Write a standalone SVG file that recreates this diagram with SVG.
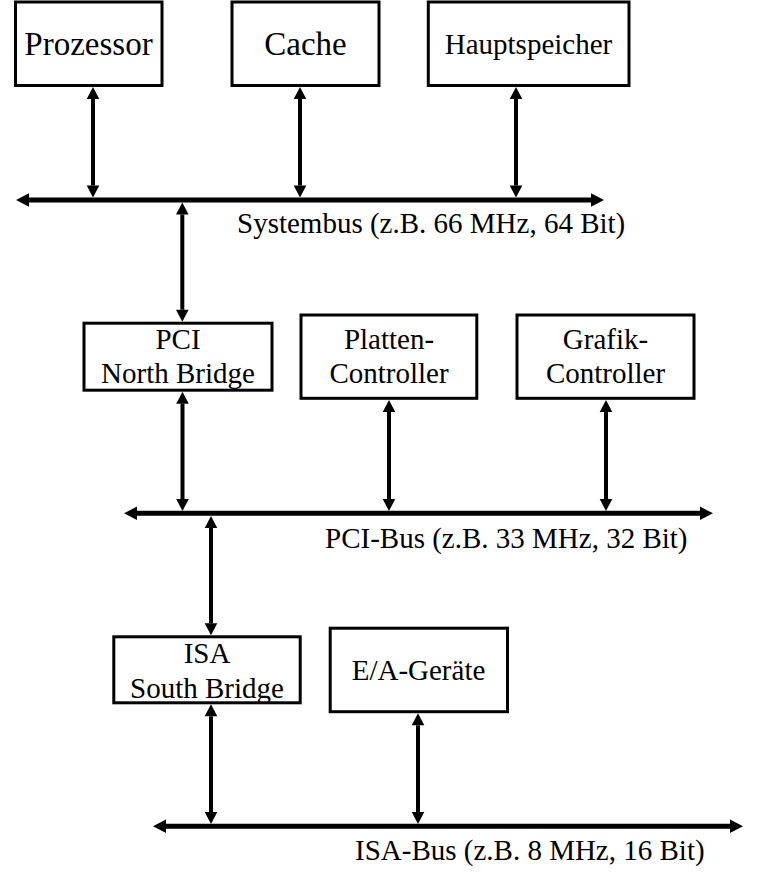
<svg xmlns="http://www.w3.org/2000/svg" width="782" height="886" viewBox="0 0 782 886">
<style>
.box{fill:#fff;stroke:#000;stroke-width:3}
.t{font-family:"Liberation Serif","Times New Roman",serif;fill:#000;text-anchor:middle;font-size:29px}
.big{font-size:33px}
.lbl{font-family:"Liberation Serif","Times New Roman",serif;fill:#000;font-size:29px}
.bus{stroke:#000;stroke-width:5;fill:none;marker-start:url(#bh);marker-end:url(#bh)}
.con{stroke:#000;stroke-width:4;fill:none;marker-start:url(#ah);marker-end:url(#ah)}
</style>
<defs>
<marker id="ah" markerUnits="userSpaceOnUse" markerWidth="14" markerHeight="14" viewBox="0 -7 13 14" refX="0" refY="0" orient="auto-start-reverse"><path d="M0,-6.3 L12,0 L0,6.3 z" fill="#000"/></marker>
<marker id="bh" markerUnits="userSpaceOnUse" markerWidth="15" markerHeight="15" viewBox="0 -7.5 14 15" refX="0" refY="0" orient="auto-start-reverse"><path d="M0,-6.7 L13,0 L0,6.7 z" fill="#000"/></marker>
</defs>
<rect width="782" height="886" fill="#fff"/>
<g id="connectors">
<line class="bus" x1="29" y1="200" x2="591" y2="200"/>
<line class="bus" x1="137" y1="513.3" x2="700" y2="513.3"/>
<line class="bus" x1="166" y1="826.3" x2="730" y2="826.3"/>
<line class="con" x1="93" y1="99" x2="93" y2="185.5"/>
<line class="con" x1="300" y1="99" x2="300" y2="185.5"/>
<line class="con" x1="516" y1="99" x2="516" y2="185.5"/>
<line class="con" x1="182.3" y1="214.5" x2="182.3" y2="309.7"/>
<line class="con" x1="182.5" y1="403.7" x2="182.5" y2="499"/>
<line class="con" x1="389" y1="412" x2="389" y2="499"/>
<line class="con" x1="606" y1="412" x2="606" y2="499"/>
<line class="con" x1="211" y1="528" x2="211" y2="623.3"/>
<line class="con" x1="211" y1="716.3" x2="211" y2="812"/>
<line class="con" x1="418" y1="725.3" x2="418" y2="812"/>
</g>
<g id="prozessor"><rect class="box" x="15.5" y="2" width="146.5" height="83.5"/><text class="t big" x="88.5" y="55">Prozessor</text></g>
<g id="cache"><rect class="box" x="232" y="2" width="147" height="83.5"/><text class="t big" x="305.5" y="55">Cache</text></g>
<g id="hauptspeicher"><rect class="box" x="428.3" y="2" width="200.7" height="83.5"/><text class="t" x="528.5" y="54">Hauptspeicher</text></g>
<g id="northbridge"><rect class="box" x="84" y="323.2" width="188" height="67"/><text class="t" x="178" y="349">PCI</text><text class="t" x="178" y="383">North Bridge</text></g>
<g id="platten"><rect class="box" x="301" y="315" width="175.8" height="83.3"/><text class="t" x="389" y="349">Platten-</text><text class="t" x="389" y="383">Controller</text></g>
<g id="grafik"><rect class="box" x="517" y="315" width="177" height="83.3"/><text class="t" x="605.5" y="349">Grafik-</text><text class="t" x="605.5" y="383">Controller</text></g>
<g id="southbridge"><rect class="box" x="113.8" y="636.8" width="186.4" height="66"/><text class="t" x="207" y="663">ISA</text><text class="t" x="207" y="698">South Bridge</text></g>
<g id="eageraete"><rect class="box" x="330.2" y="628.2" width="177.3" height="83.5"/><text class="t" x="418.5" y="680">E/A-Geräte</text></g>
<g id="labels">
<text class="lbl" x="237" y="233">Systembus (z.B. 66 MHz, 64 Bit)</text>
<text class="lbl" x="325" y="547.5">PCI-Bus (z.B. 33 MHz, 32 Bit)</text>
<text class="lbl" x="355" y="860">ISA-Bus (z.B. 8 MHz, 16 Bit)</text>
</g>
</svg>
